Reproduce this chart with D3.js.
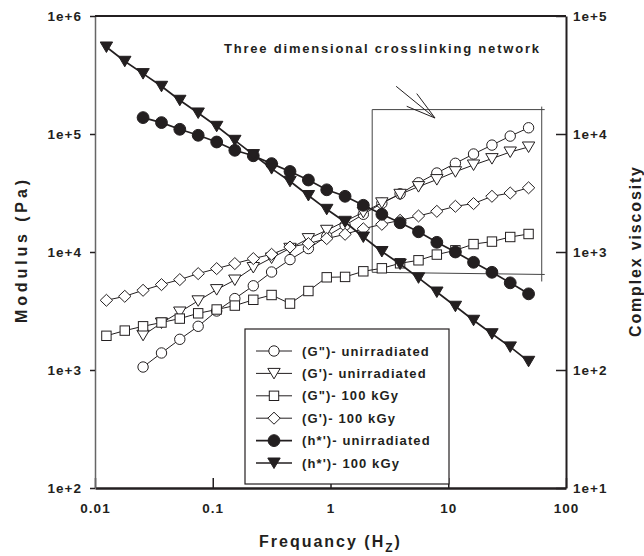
<!DOCTYPE html>
<html>
<head>
<meta charset="utf-8">
<script src="https://cdn.jsdelivr.net/npm/d3@7"></script>
<style>
	body { margin: 0; background: #fff; }
	svg { display: block; font-family: "Liberation Sans", Arial, sans-serif; font-weight: bold; }
</style>
</head>
<body>
<svg width="644" height="556"></svg>
<script>
// frequency (Hz)
var freq = [0.0125, 0.0179, 0.0256, 0.0367, 0.0525, 0.0752, 0.108, 0.154, 0.221, 0.316, 0.453, 0.649,
	0.929, 1.33, 1.90, 2.73, 3.90, 5.59, 8.00, 11.5, 16.4, 23.5, 33.6, 48.1];

// modulus (Pa), left axis
var lossUnirr = [null, null, 1060, 1394, 1820, 2346, 3162, 4029, 5171, 6768, 8622, 10690, 13590, 16840,
	20870, 25860, 31130, 38580, 46710, 56450, 67680, 80530, 95980, 112900];
var storUnirr = [null, null, 1968, 2502, 3101, 3858, 4801, 5790, 7390, 8898, 10750, 12990, 15280, 18200,
	21700, 26120, 30830, 35830, 41070, 47910, 54630, 61860, 70390, 77600];
var loss100 = [1949, 2157, 2346, 2526, 2726, 3023, 3256, 3514, 3935, 4321, 3654, 4671, 6103, 6150,
	6861, 7276, 8022, 8506, 9506, 10340, 11670, 12250, 13400, 14210];
var stor100 = [3897, 4212, 4736, 5291, 5836, 6559, 7233, 7976, 8795, 9561, 11020, 11780, 12990, 14130,
	15730, 17170, 18560, 20190, 22120, 24400, 25720, 29650, 31620, 35000];

// complex viscosity, right axis
var etaUnirr = [null, null, 13770, 12490, 10960, 9750, 8555, 7276, 6537, 5613, 4811, 4075, 3366, 2965,
	2488, 2087, 1768, 1484, 1208, 1000, 818, 673, 548, 442];
var eta100 = [54620, 41320, 32490, 25370, 19310, 15070, 11620, 8843, 6691, 5091, 3974, 3012, 2300, 1796,
	1340, 1010, 791, 604, 458, 347, 264, 203, 157, 118.5];

var xTicks = [0.01, 0.1, 1, 10, 100];
var yTicks = [1e2, 1e3, 1e4, 1e5, 1e6];
var y2Ticks = [1e1, 1e2, 1e3, 1e4, 1e5];

var legendNames = ['(G")- unirradiated', "(G')- unirradiated", '(G")- 100 kGy', "(G')- 100 kGy",
	'(h*\')- unirradiated', "(h*')- 100 kGy"];

var svg = d3.select("svg"),
	plotL = 95, plotR = 566, plotT = 16, plotB = 488,
	ink = "#231f20";

var x = d3.scaleLog().domain([0.01, 100]).range([plotL, plotR]);
var y = d3.scaleLog().domain([1e2, 1e6]).range([plotB, plotT]);
var y2 = d3.scaleLog().domain([1e1, 1e5]).range([plotB, plotT]);

// marker shapes
var shapes = {
	circle: function(g, r) { g.append("circle").attr("r", r || 5.2); },
	tri: function(g) { g.append("path").attr("d", "M-6.2,-5L6.2,-5L0,5.5Z"); },
	square: function(g) { g.append("rect").attr("x", -4.7).attr("y", -4.7).attr("width", 9.4).attr("height", 9.4); },
	diamond: function(g) { g.append("path").attr("d", "M0,-6L6.2,0L0,6L-6.2,0Z"); }
};

var series = [
	{ vals: lossUnirr, scale: y, shape: "circle", fill: "#fff", lw: 1 },
	{ vals: storUnirr, scale: y, shape: "tri", fill: "#fff", lw: 1 },
	{ vals: loss100, scale: y, shape: "square", fill: "#fff", lw: 1 },
	{ vals: stor100, scale: y, shape: "diamond", fill: "#fff", lw: 1 },
	{ vals: etaUnirr, scale: y2, shape: "circle", fill: ink, lw: 1.7, r: 5.9 },
	{ vals: eta100, scale: y2, shape: "tri", fill: ink, lw: 1.7 }
];

// annotation box and arrow
var boxF = [2.26, 62.2], boxV = [161000, 6730, 6450];
var ann = svg.append("g").attr("stroke", "#444").attr("stroke-width", 1).attr("fill", "none");
ann.append("line").attr("x1", x(boxF[0])).attr("x2", x(boxF[1]) + 3).attr("y1", y(boxV[0])).attr("y2", y(boxV[0]));
ann.append("line").attr("x1", x(boxF[0])).attr("x2", x(boxF[0])).attr("y1", y(boxV[0])).attr("y2", y(boxV[1]));
ann.append("line").attr("x1", x(boxF[0])).attr("x2", x(boxF[1]) + 3).attr("y1", y(boxV[1])).attr("y2", y(boxV[2]));
ann.append("line").attr("x1", x(boxF[1])).attr("x2", x(boxF[1])).attr("y1", y(boxV[0]) - 3).attr("y2", y(boxV[2]) + 7);

var arrowTip = [7.72, 136600],
	arrowTails = [[3.61, 253600], [4.44, 171700], [5.40, 220000]];
arrowTails.forEach(function(t) {
	ann.append("line")
		.attr("x1", x(t[0])).attr("y1", y(t[1]))
		.attr("x2", x(arrowTip[0])).attr("y2", y(arrowTip[1]))
		.attr("stroke", ink);
});

// series
series.forEach(function(s) {
	var pts = freq.map(function(f, i) { return [f, s.vals[i]]; }).filter(function(d) { return d[1] != null; });
	svg.append("path")
		.datum(pts)
		.attr("fill", "none")
		.attr("stroke", ink)
		.attr("stroke-width", s.lw)
		.attr("d", d3.line().x(function(d) { return x(d[0]); }).y(function(d) { return s.scale(d[1]); }));
	svg.append("g")
		.attr("fill", s.fill)
		.attr("stroke", ink)
		.attr("stroke-width", 1)
		.selectAll("g")
		.data(pts)
		.enter().append("g")
		.attr("transform", function(d) { return "translate(" + x(d[0]) + "," + s.scale(d[1]) + ")"; })
		.each(function() { shapes[s.shape](d3.select(this), s.r); });
});

// axes
var tickFont = function(g) {
	g.selectAll("text").attr("font-size", 13.5).attr("font-weight", "bold")
		.attr("font-family", '"Liberation Sans", Arial, sans-serif')
		.attr("letter-spacing", "1px").attr("fill", ink);
	g.selectAll(".tick line").attr("stroke", ink).attr("stroke-width", 1.5);
};

svg.append("g")
	.attr("transform", "translate(0," + plotB + ")")
	.call(d3.axisBottom(x).tickValues(xTicks).tickFormat(d3.format("~g")).tickSize(-10).tickSizeOuter(0).tickPadding(15))
	.call(tickFont)
	.call(function(g) { g.select(".domain").attr("stroke", ink).attr("stroke-width", 2.5); });

svg.append("g")
	.attr("transform", "translate(" + plotL + ",0)")
	.call(d3.axisLeft(y).tickValues(yTicks).tickFormat(d3.format(".0e")).tickSize(5).tickSizeOuter(0).tickPadding(8))
	.call(tickFont)
	.call(function(g) { g.select(".domain").attr("stroke", "#666").attr("stroke-width", 1.5); });

svg.append("g")
	.attr("transform", "translate(" + plotR + ",0)")
	.call(d3.axisRight(y2).tickValues(y2Ticks).tickFormat(d3.format(".0e")).tickSize(-10).tickSizeOuter(0).tickPadding(7))
	.call(tickFont)
	.call(function(g) { g.select(".domain").attr("stroke", ink).attr("stroke-width", 2); });

svg.append("line")
	.attr("x1", plotL).attr("x2", plotR).attr("y1", plotT).attr("y2", plotT)
	.attr("stroke", ink).attr("stroke-width", 2);

// annotation text
svg.append("text")
	.attr("x", 224).attr("y", 53)
	.attr("font-size", 13)
	.attr("textLength", 315).attr("lengthAdjust", "spacing")
	.attr("fill", ink)
	.text("Three dimensional crosslinking network");

// legend
var lg = svg.append("g");
lg.append("rect")
	.attr("x", 245).attr("y", 329).attr("width", 204).attr("height", 155)
	.attr("fill", "#fff").attr("stroke", ink).attr("stroke-width", 1.2);

var item = lg.selectAll(".item")
	.data(series)
	.enter().append("g")
	.attr("transform", function(d, i) { return "translate(0," + (351 + i * 22.4) + ")"; });

item.append("line")
	.attr("x1", 256).attr("x2", 292)
	.attr("stroke", ink)
	.attr("stroke-width", function(d) { return d.lw; });

item.append("g")
	.attr("transform", "translate(274,0)")
	.attr("fill", function(d) { return d.fill; })
	.attr("stroke", ink)
	.each(function(d) { shapes[d.shape](d3.select(this), d.r); });

item.append("text")
	.attr("x", 302).attr("dy", "0.36em")
	.attr("font-size", 13)
	.attr("letter-spacing", "1.1px")
	.attr("fill", ink)
	.text(function(d, i) { return legendNames[i]; });

// axis titles
svg.append("text")
	.attr("transform", "translate(27,251.5) rotate(-90)")
	.attr("text-anchor", "middle")
	.attr("font-size", 16)
	.attr("textLength", 143).attr("lengthAdjust", "spacing")
	.attr("fill", ink)
	.text("Modulus (Pa)");

svg.append("text")
	.attr("transform", "translate(641,252) rotate(-90)")
	.attr("text-anchor", "middle")
	.attr("font-size", 16)
	.attr("textLength", 170).attr("lengthAdjust", "spacing")
	.attr("fill", ink)
	.text("Complex viscosity");

var xt = svg.append("text")
	.attr("x", 259).attr("y", 547)
	.attr("font-size", 16)
	.attr("letter-spacing", "2px")
	.attr("fill", ink);
xt.append("tspan").text("Frequancy (H");
xt.append("tspan").attr("dy", 5).attr("font-size", 12).text("Z");
xt.append("tspan").attr("dy", -5).text(")");
</script>
</body>
</html>
